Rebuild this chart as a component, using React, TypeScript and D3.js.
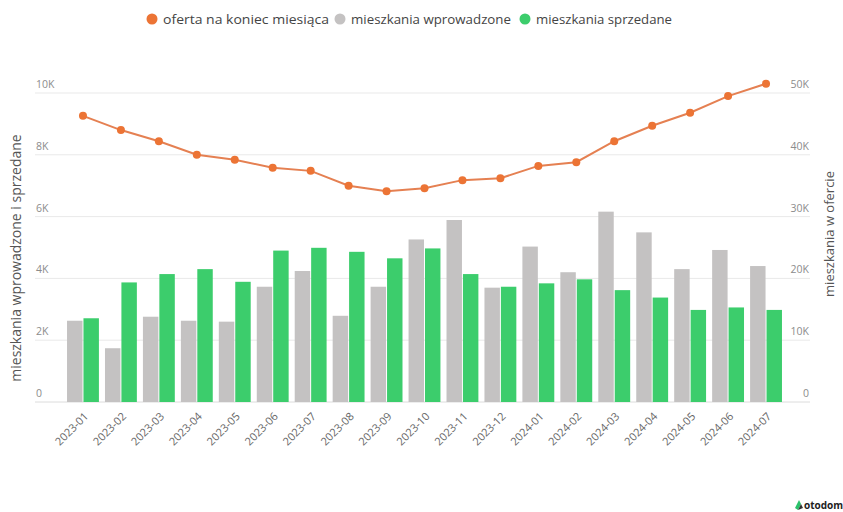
import React from "react";
import * as d3 from "d3";

const months = ["2023-01","2023-02","2023-03","2023-04","2023-05","2023-06","2023-07","2023-08","2023-09","2023-10","2023-11","2023-12","2024-01","2024-02","2024-03","2024-04","2024-05","2024-06","2024-07"];
const introduced = [2630,1740,2760,2630,2600,3730,4240,2790,3730,5260,5890,3700,5030,4200,6160,5490,4300,4920,4400];
const sold = [2710,3870,4140,4300,3890,4900,4990,4860,4650,4970,4140,3730,3840,3970,3620,3380,2980,3060,2980];
const offer = [46300,44000,42200,40000,39200,37900,37400,35000,34100,34600,35900,36200,38200,38800,42200,44700,46800,49500,51500];
const leftTicks = [0,2000,4000,6000,8000,10000];
const rightTicks = [0,10000,20000,30000,40000,50000];
const legendItems = [
  { label: "oferta na koniec miesiąca", color: "#ec7435" },
  { label: "mieszkania wprowadzone", color: "#c4c2c2" },
  { label: "mieszkania sprzedane", color: "#3ccd6c" },
];

const W = 843, H = 512;
const FONT = "'Open Sans', 'Noto Sans', sans-serif";

export default function App() {
  const x = d3.scaleBand<string>().domain(months).range([64, 785]).paddingInner(0.16).paddingOuter(0.08);
  const sub = d3.scaleBand<string>().domain(["a", "b"]).range([0, x.bandwidth()]).paddingInner(0.06);
  const yL = d3.scaleLinear().domain([0, 10000]).range([402, 93]);
  const yR = d3.scaleLinear().domain([0, 50000]).range([402, 93]);
  const cx = (m: string) => (x(m) as number) + x.bandwidth() / 2;
  const line = d3.line<number>().x((_, i) => cx(months[i])).y((d) => yR(d));
  const fmt = (v: number) => (v === 0 ? "0" : `${v / 1000}K`);

  const legendX = [152, 340, 525];

  return (
    <div style={{ position: "fixed", left: 0, top: 0 }}>
      <svg width={W} height={H} style={{ display: "block", background: "#fff" }} fontFamily={FONT}>
        {legendItems.map((it, i) => (
          <g key={it.label} transform={`translate(${legendX[i]},19)`}>
            <circle cx={0} cy={0} r={5.5} fill={it.color} />
            <text x={11} y={4.5} fontSize={12.5} fill="#444" textLength={i === 0 ? 166 : i === 1 ? 160 : 136} lengthAdjust="spacingAndGlyphs">{it.label}</text>
          </g>
        ))}

        {leftTicks.map((t) => (
          <line key={t} x1={35} x2={810} y1={yL(t)} y2={yL(t)} stroke={t === 0 ? "#dcdcdc" : "#e9e9e9"} strokeWidth={1} />
        ))}
        {leftTicks.map((t) => (
          <text key={"l" + t} x={36} y={yL(t) - 5} fontSize={10.5} fill="#8c8c8c">{fmt(t)}</text>
        ))}
        {rightTicks.map((t) => (
          <text key={"r" + t} x={809} y={yR(t) - 5} fontSize={10.5} fill="#8c8c8c" textAnchor="end">{fmt(t)}</text>
        ))}

        <text transform="translate(21,258) rotate(-90)" textAnchor="middle" fontSize={14} fill="#555">
          mieszkania wprowadzone i sprzedane
        </text>
        <text transform="translate(834,234) rotate(-90)" textAnchor="middle" fontSize={13} fill="#555">
          mieszkania w ofercie
        </text>

        {months.map((m, i) => (
          <g key={m} transform={`translate(${x(m)},0)`}>
            <rect x={sub("a")} y={yL(introduced[i])} width={sub.bandwidth()} height={yL(0) - yL(introduced[i])} fill="#c4c2c2" />
            <rect x={sub("b")} y={yL(sold[i])} width={sub.bandwidth()} height={yL(0) - yL(sold[i])} fill="#3ccd6c" />
          </g>
        ))}

        <path d={line(offer) || ""} fill="none" stroke="#e58052" strokeWidth={2} />
        {offer.map((v, i) => (
          <circle key={i} cx={cx(months[i])} cy={yR(v)} r={4} fill="#ec7435" />
        ))}

        {months.map((m) => (
          <text key={m} transform={`translate(${cx(m) + 6},${417}) rotate(-45)`} textAnchor="end" fontSize={11} fill="#666">
            {m}
          </text>
        ))}

        <g transform="translate(795,505)">
          <path d="M0,3 L4,-5 L6,-1 L3,5 Z" fill="#2bc26b" />
          <path d="M3,5 L6,-1 L8,3 Z" fill="#333" />
          <text x={9} y={4} fontSize={10} fontWeight="bold" fill="#222">otodom</text>
        </g>
      </svg>
    </div>
  );
}
